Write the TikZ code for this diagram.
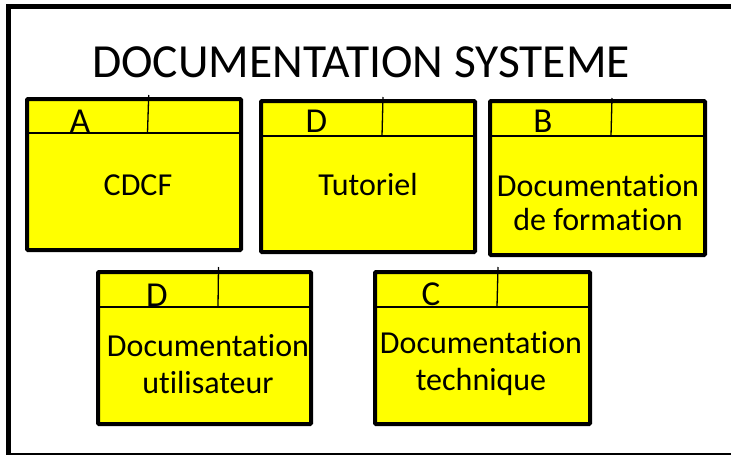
\documentclass[tikz,border=0pt]{standalone}
\usepackage{fontspec}
\setmainfont{Carlito}[Ligatures=NoCommon]
\definecolor{boxyellow}{RGB}{255,255,0}
\begin{document}
\begin{tikzpicture}[x=1pt,y=-1pt,
  docbox/.style={draw=black,line width=4pt,fill=boxyellow,rounded corners=1pt,
    minimum width=#1,minimum height=151pt,inner sep=0pt,outer sep=0pt},
  docbox/.default=214pt,
  rule/.style={draw=black,line width=1.3pt},
  tag/.style={font=\fontsize{35}{35}\selectfont,anchor=base,inner sep=0pt},
  label/.style={font=\fontsize{32}{32}\selectfont,anchor=base,inner sep=0pt},
  title/.style={font=\fontsize{47.5}{47.5}\selectfont,anchor=base,inner sep=0pt}]
\useasboundingbox (0,0) rectangle (731,455);
\fill[white] (0,0) rectangle (731,455);
\begin{scope}
  \clip (0,0) rectangle (731,455);
  % outer frame, running past the right edge
  \draw[line width=5pt] (8,6.5) rectangle (760,455.5);
\end{scope}

\node[title] (heading) at (361,77) {DOCUMENTATION SYSTEME};

% document boxes
\node[docbox,minimum height=151pt] (cdcf) at (134,174.5) {};
\node[docbox,minimum height=151pt] (tuto) at (368,176.5) {};
\node[docbox=215pt,minimum height=154pt] (form) at (597.5,178) {};
\node[docbox=213pt,minimum height=152pt] (util) at (204.5,348) {};
\node[docbox=215pt,minimum height=152pt] (tech) at (482.5,348) {};

% header rules and dividers
\coordinate (cdcfL) at (27,133);  \coordinate (cdcfR) at (241,133);
\coordinate (cdcfT) at (148.7,95); \coordinate (cdcfB) at (147.5,133);
\draw[rule] (cdcfL) -- (cdcfR); \draw[rule] (cdcfT) -- (cdcfB);

\coordinate (tutoL) at (261,136);  \coordinate (tutoR) at (475,136);
\coordinate (tutoT) at (383,97);   \coordinate (tutoB) at (382,136);
\draw[rule] (tutoL) -- (tutoR); \draw[rule] (tutoT) -- (tutoB);

\coordinate (formL) at (490,136);  \coordinate (formR) at (705,136);
\coordinate (formT) at (612,98);   \coordinate (formB) at (611,136);
\draw[rule] (formL) -- (formR); \draw[rule] (formT) -- (formB);

\coordinate (utilL) at (98,307);   \coordinate (utilR) at (311,307);
\coordinate (utilT) at (218.5,267); \coordinate (utilB) at (218,307);
\draw[rule] (utilL) -- (utilR); \draw[rule] (utilT) -- (utilB);

\coordinate (techL) at (375,307);  \coordinate (techR) at (590,307);
\coordinate (techT) at (498,267);  \coordinate (techB) at (497,307);
\draw[rule] (techL) -- (techR); \draw[rule] (techT) -- (techB);

% header letters
\node[tag] (cdcfTag) at (80,132) {A};
\node[tag] (tutoTag) at (316.5,132.5) {D};
\node[tag] (formTag) at (543,132) {B};
\node[tag] (utilTag) at (157,306.5) {D};
\node[tag] (techTag) at (431,305) {C};

% box titles
\node[label] (cdcfText) at (138,195) {CDCF};
\node[label] (tutoText) at (368,195) {Tutoriel};
\node[label] (formText1) at (598,196) {Documentation};
\node[label] (formText2) at (598,230) {de formation};
\node[label] (utilText1) at (208,356) {Documentation};
\node[label] (utilText2) at (208,393) {utilisateur};
\node[label] (techText1) at (481,353) {Documentation};
\node[label] (techText2) at (481,390) {technique};
\end{tikzpicture}
\end{document}
